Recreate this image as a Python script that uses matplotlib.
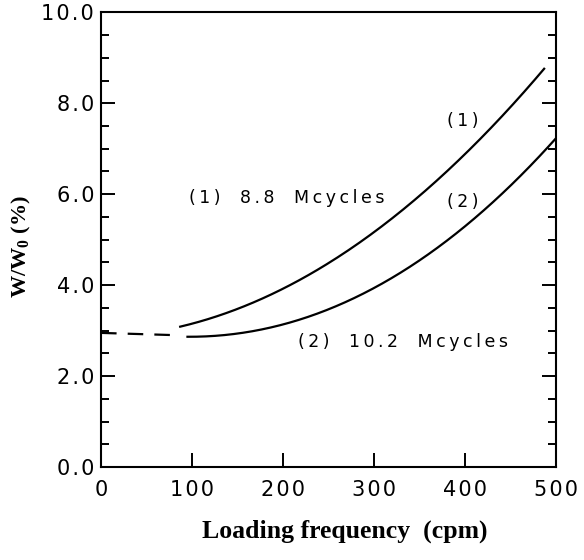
import matplotlib.pyplot as plt
import numpy as np
from matplotlib.ticker import MultipleLocator

# curve (1) 8.8 Mcycles
freq_1 = [87, 132, 202, 267, 308, 358, 399, 440, 487]
ratio_1 = [3.06, 3.37, 4.0, 4.68, 5.24, 6.03, 6.9, 7.82, 8.69]

# curve (2) 10.2 Mcycles
freq_2 = [95, 152, 202, 267, 308, 358, 407, 460, 500]
ratio_2 = [2.86, 2.94, 3.17, 3.61, 4.0, 4.64, 5.44, 6.39, 7.22]

# dashed extrapolation to zero frequency
freq_dash = [0, 82]
ratio_dash = [2.95, 2.9]

x_ticks = [0, 100, 200, 300, 400, 500]
y_ticks = [0, 2, 4, 6, 8, 10]

TS = '\u2009'  # thin space
HS = '\u200a'  # hair space

plt.rcParams['mathtext.fontset'] = 'custom'
plt.rcParams['mathtext.bf'] = 'Liberation Serif:bold'
plt.rcParams['mathtext.rm'] = 'Liberation Serif:bold'


def spaced(s, gap=TS, word_gap=2):
	# the scanned figure has wide letter spacing
	out = ''
	for i, ch in enumerate(s):
		out += ch
		if i < len(s) - 1:
			out += gap * (word_gap if ch == ' ' or s[i + 1] == ' ' else 1)
	return out


def smooth(x, y, n=200):
	xs = np.linspace(x[0], x[-1], n)
	coef = np.polyfit(x, y, 3)
	return xs, np.polyval(coef, xs)


fig = plt.figure(figsize=(5.84, 5.60), dpi=100)
ax = fig.add_axes([0.173, 0.166, 0.779, 0.812])

xs, ys = smooth(freq_1, ratio_1)
ax.plot(xs, ys, color='black', linewidth=1.6)
xs, ys = smooth(freq_2, ratio_2)
ax.plot(xs, ys, color='black', linewidth=1.6)
ax.plot(freq_dash, ratio_dash, color='black', linewidth=1.6, linestyle=(0, (7, 5)))

tick_font = 'DejaVu Sans'
ax.text(97, 5.91, spaced('(1) 8.8 Mcycles'), fontsize=12.5, family=tick_font, va='center')
ax.text(216, 2.74, spaced('(2) 10.2 Mcycles'), fontsize=12.5, family=tick_font, va='center')
ax.text(380, 7.62, spaced('(1)'), fontsize=12.5, family=tick_font, va='center')
ax.text(380, 5.83, spaced('(2)'), fontsize=12.5, family=tick_font, va='center')

ax.set_xlim(0, 500)
ax.set_ylim(0, 10)
ax.set_xticks(x_ticks)
ax.set_xticklabels([HS.join(str(v)) for v in x_ticks])
ax.set_yticks(y_ticks)
ax.set_yticklabels([HS.join('%.1f' % v) for v in y_ticks])
ax.yaxis.set_minor_locator(MultipleLocator(0.5))

ax.tick_params(axis='y', which='both', direction='in', left=True, right=True, width=1.4)
ax.tick_params(axis='y', which='major', length=10, pad=5)
ax.tick_params(axis='y', which='minor', length=6)
ax.tick_params(axis='x', which='major', direction='in', length=10, width=1.4, pad=9, top=False)
for lab in ax.get_xticklabels() + ax.get_yticklabels():
	lab.set_family(tick_font)
	lab.set_fontsize(15)

for sp in ax.spines.values():
	sp.set_linewidth(1.5)

ax.set_xlabel('Loading frequency  (cpm)', fontsize=18.5, family='Liberation Serif', fontweight='bold')
ax.xaxis.set_label_coords(0.535, -0.115)
ax.set_ylabel('$\\mathbf{W/W_0}$ (%)', fontsize=16, family='Liberation Serif', fontweight='bold')
ax.yaxis.set_label_coords(-0.15, 0.485)

plt.savefig('out.png', dpi=100)
